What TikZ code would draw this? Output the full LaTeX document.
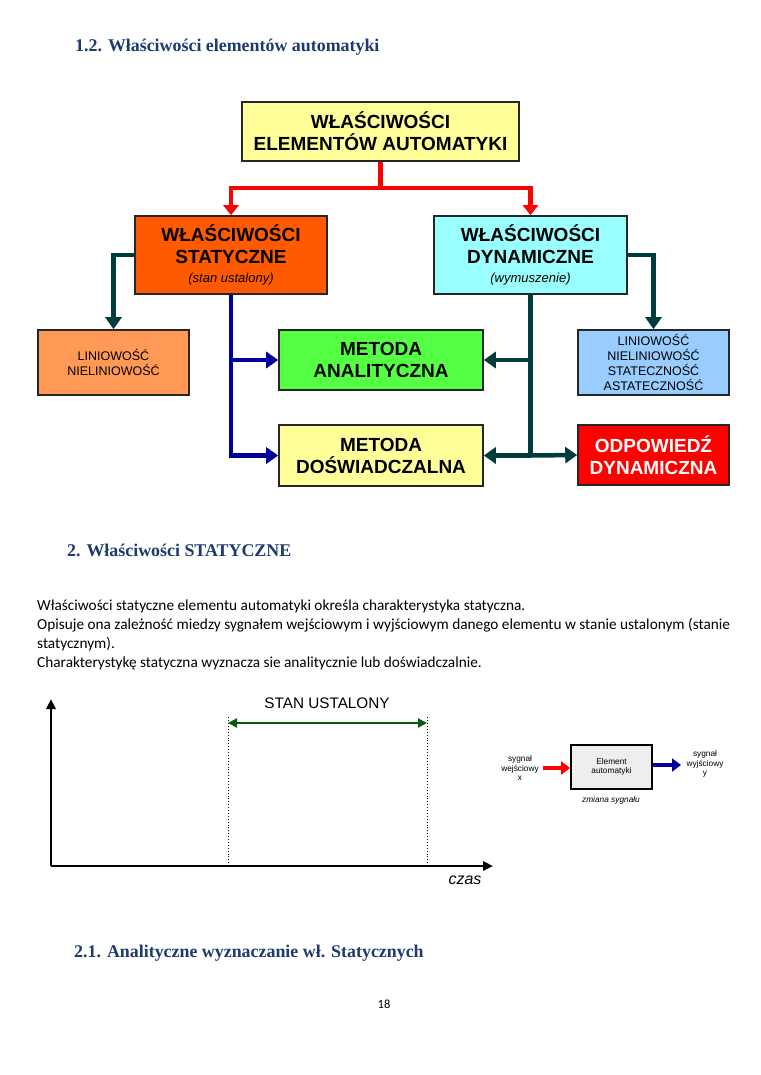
\documentclass[tikz,border=0pt]{standalone}
\usepackage{fontspec}
\setmainfont{Carlito}
\newfontfamily\headfont{Liberation Serif}
\newfontfamily\arialfont{Liberation Sans}
\usetikzlibrary{arrows.meta,positioning,calc}
\definecolor{headblue}{HTML}{1F3A6E}
\definecolor{boxyellow}{HTML}{FFFF99}
\definecolor{boxorange}{HTML}{FF5A00}
\definecolor{boxcyan}{HTML}{99FFFF}
\definecolor{boxpeach}{HTML}{FF9955}
\definecolor{boxblue}{HTML}{99CCFF}
\definecolor{boxgreen}{HTML}{55FF44}
\definecolor{boxred}{HTML}{FF0000}
\definecolor{tealline}{HTML}{003C3C}
\definecolor{blueline}{HTML}{000099}
\definecolor{redline}{HTML}{FF0000}
\definecolor{stangreen}{HTML}{0B5A0B}
\definecolor{elgray}{HTML}{EEEEEE}
\newcommand{\subit}[1]{{\arialfont\mdseries\itshape\fontsize{13}{15}\selectfont #1}}
\tikzset{
  pbox/.style={draw=black!85, line width=1.6pt, inner sep=0pt, align=center,
    font=\arialfont\bfseries\fontsize{19}{22}\selectfont},
  sbox/.style={draw=black!85, line width=1.6pt, inner sep=0pt, align=center,
    font=\arialfont\fontsize{12.5}{15}\selectfont},
  redcon/.style={draw=redline, line width=4.5pt, -{Triangle[length=10pt,width=15pt]}},
  redseg/.style={draw=redline, line width=4.5pt},
  tealcon/.style={draw=tealline, line width=4.5pt, -{Triangle[length=12pt,width=16pt]}},
  tealseg/.style={draw=tealline, line width=4.5pt},
  bluecon/.style={draw=blueline, line width=4.5pt, -{Triangle[length=12pt,width=16pt]}},
  heading/.style={anchor=base west, inner sep=0pt, text=headblue,
    font=\headfont\bfseries\fontsize{17.9}{21}\selectfont},
  bodyline/.style={anchor=base west, inner sep=0pt, font=\fontsize{15.3}{18}\selectfont},
  axis/.style={line width=2.5pt, -{Triangle[length=10pt,width=9pt]}},
  dotline/.style={line width=0.9pt, dotted},
  tiny/.style={inner sep=0pt, align=center, font=\arialfont\fontsize{8.3}{9.3}\selectfont},
}
\begin{document}
\begin{tikzpicture}[x=1pt,y=-1pt]
\useasboundingbox[fill=white] (0,0) rectangle (760,1075);

% headings
\node[heading] (h1) at (75,52) {1.2. Właściwości elementów automatyki};
\node[heading] (h2) at (67,556) {2. Właściwości STATYCZNE};
\node[heading] (h3) at (74,957) {2.1. Analityczne wyznaczanie wł. Statycznych};

% main diagram boxes
\node[pbox, fill=boxyellow, minimum width=277pt, minimum height=59pt] (top) at (380.5,131.5)
  {WŁAŚCIWOŚCI\\ELEMENTÓW AUTOMATYKI};
\node[pbox, fill=boxorange, minimum width=192pt, minimum height=78pt] (stat) at (231,255)
  {WŁAŚCIWOŚCI\\STATYCZNE\\[-3pt]\subit{(stan ustalony)}};
\node[pbox, fill=boxcyan, minimum width=193pt, minimum height=78pt] (dyn) at (530.5,255)
  {WŁAŚCIWOŚCI\\DYNAMICZNE\\[-3pt]\subit{(wymuszenie)}};
\node[sbox, fill=boxpeach, minimum width=151pt, minimum height=65pt] (lin) at (113.5,362.5)
  {LINIOWOŚĆ\\NIELINIOWOŚĆ};
\node[sbox, fill=boxblue, minimum width=151pt, minimum height=65pt] (lin2) at (653.5,362.5)
  {LINIOWOŚĆ\\NIELINIOWOŚĆ\\STATECZNOŚĆ\\ASTATECZNOŚĆ};
\node[pbox, fill=boxgreen, minimum width=204pt, minimum height=60pt] (ana) at (381,360)
  {METODA\\ANALITYCZNA};
\node[pbox, fill=boxyellow, minimum width=204pt, minimum height=61pt] (dos) at (381,455.5)
  {METODA\\DOŚWIADCZALNA};
\node[pbox, fill=boxred, text=white, minimum width=151pt, minimum height=60pt] (odp) at (653.5,455)
  {ODPOWIEDŹ\\DYNAMICZNA};

% red connectors
\coordinate (rj) at ($(top.south)+(0,26)$);
\draw[redseg] (top.south) -- (rj);
\draw[redcon] (rj) -| (stat.north);
\draw[redcon] (rj) -| (dyn.north);

% teal side connectors
\draw[tealcon] (stat.west) -| (lin.north);
\draw[tealcon] (dyn.east) -| (lin2.north);

% blue connectors
\draw[bluecon] (stat.south) |- (dos.west);
\draw[bluecon] (stat.south |- ana.west) -- (ana.west);

% teal connectors from dynamic
\coordinate (tj) at (dyn.south |- dos.east);
\draw[tealseg] (dyn.south) -- (tj);
\draw[tealcon] (dyn.south |- ana.east) -- (ana.east);
\draw[tealcon] (tj) -- (dos.east);
\draw[tealcon] (tj) -- (odp.west);

% body text
\node[bodyline] (t1) at (37,610) {Właściwości statyczne elementu automatyki określa charakterystyka statyczna.};
\node[bodyline] (t2) at (37,629) {Opisuje ona zależność miedzy sygnałem wejściowym i wyjściowym danego elementu w stanie ustalonym (stanie};
\node[bodyline] (t3) at (37,648) {statycznym).};
\node[bodyline] (t4) at (37,667) {Charakterystykę statyczna wyznacza sie analitycznie lub doświadczalnie.};

% graph
\coordinate (o) at (51,866);
\coordinate (ytop) at (51,699);
\coordinate (xend) at (493,866);
\draw[axis] (o) -- (ytop);
\draw[axis] (o) -- (xend);
\coordinate (d1b) at (228,866);
\coordinate (d1t) at (228,717);
\coordinate (d2b) at (427,866);
\coordinate (d2t) at (427,717);
\draw[dotline] (d1b) -- (d1t);
\draw[dotline] (d2b) -- (d2t);
\draw[stangreen, line width=2.2pt, {Triangle[length=9pt,width=9pt]}-{Triangle[length=9pt,width=9pt]}] (228,723) -- (427,723);
\node[inner sep=0pt, font=\arialfont\fontsize{15.3}{17}\selectfont] (stan) at (327,703) {STAN USTALONY};
\node[inner sep=0pt, font=\arialfont\itshape\fontsize{16}{18}\selectfont] (czas) at (465,880) {czas};

% element block
\node[draw=black, line width=1.8pt, fill=elgray, minimum width=81pt, minimum height=44pt, tiny] (el) at (611.5,767) {Element\\automatyki};
\node[tiny] (inlab) at (520,768) {sygnał\\wejściowy\\x};
\node[tiny] (outlab) at (705,764) {sygnał\\wyjściowy\\y};
\node[tiny, font=\arialfont\itshape\fontsize{8.3}{9.3}\selectfont] (zm) at (611,800) {zmiana sygnału};
\coordinate (rin) at (543,768);
\draw[redline, line width=4.5pt, -{Triangle[length=9pt,width=13pt]}] (rin) -- (el.west |- rin);
\coordinate (bout) at (681,765);
\draw[blueline, line width=4.5pt, -{Triangle[length=9pt,width=13pt]}] (el.east |- bout) -- (bout);

% page number
\node[inner sep=0pt, font=\fontsize{12.5}{14}\selectfont] (pg) at (384,1004) {18};
\end{tikzpicture}
\end{document}
